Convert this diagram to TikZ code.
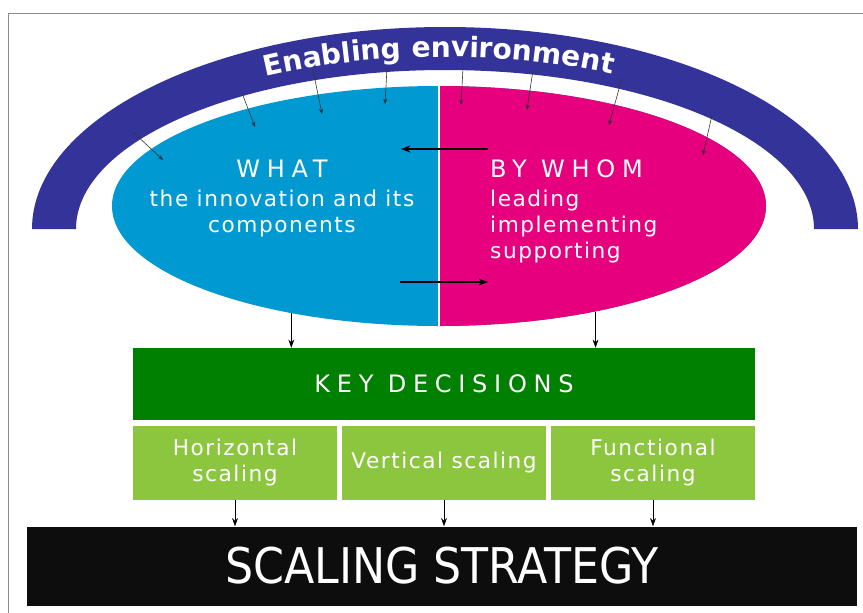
\documentclass[tikz,border=0pt]{standalone}
\usepackage{fontspec}
\setmainfont{DejaVu Sans}
\newfontfamily\headfont[LetterSpace=28]{DejaVu Sans}
\newfontfamily\bodyfont[LetterSpace=7]{DejaVu Sans}
\newfontfamily\stratfont[FakeStretch=0.9]{DejaVu Sans}
\usetikzlibrary{shapes.geometric, arrows.meta, decorations.text}

\definecolor{envblue}{RGB}{51,51,153}
\definecolor{whatblue}{RGB}{0,153,210}
\definecolor{whommag}{RGB}{230,0,126}
\definecolor{keygreen}{RGB}{0,128,0}
\definecolor{kindgreen}{RGB}{140,198,63}
\definecolor{framegray}{RGB}{140,140,140}

\begin{document}
\begin{tikzpicture}[
    x=0.03cm, y=-0.03cm,
    heading/.style={text=white, inner sep=0, font=\headfont\fontsize{20.5}{22}\selectfont},
    body/.style={text=white, inner sep=0, font=\bodyfont\fontsize{18.5}{22.2}\selectfont},
    keybox/.style={rectangle, fill=keygreen, minimum width=18.66cm, minimum height=2.16cm, heading},
    kindbox/.style={rectangle, fill=kindgreen, minimum width=6.12cm, minimum height=2.22cm, align=center, body},
    stratbox/.style={rectangle, fill=black!95, minimum width=24.87cm, minimum height=2.37cm, text=white, font=\stratfont\fontsize{42}{42}\selectfont},
    envarrow/.style={-{Stealth[length=4.5pt, width=3.5pt]}, black!80, line width=0.5pt},
    trade/.style={-{Stealth[length=8pt, width=6pt]}, black, line width=1.3pt},
    arrow/.style={-{Stealth[length=7pt, width=5pt]}, black, line width=0.6pt}
]
\useasboundingbox (0,0) rectangle (863,613);

% Frame
\draw[framegray, line width=0.8pt] (8,613) -- (8,13) -- (863,13);

% Enabling environment band
\fill[envblue] (445,229) ++(-413,0) arc[start angle=180, end angle=360, x radius=413, y radius=202]
    -- ++(-44,0) arc[start angle=360, end angle=180, x radius=369, y radius=159] -- cycle;
\path[decorate, decoration={text along path, text align=center,
    text={|\color{white}\bfseries\fontsize{24}{24}\selectfont|Enabling environment}}]
    (445,229) ++(-385,0) arc[start angle=180, end angle=356, x radius=385, y radius=172];

% What / by whom
\node[ellipse, fill=whatblue, minimum width=19.62cm, minimum height=7.2cm, inner sep=0] (core) at (439,206) {};
\begin{scope}
    \clip (core.north) rectangle (core.east |- core.south);
    \fill[whommag] (core.center) ellipse[x radius=327, y radius=120];
\end{scope}
\draw[white, line width=1.5pt] (core.north) -- (core.south);

\node[heading, anchor=base] (whatlbl) at (282,177) {WHAT};
\node[body, align=center, anchor=north] (whattxt) at (282,190) {the innovation and its\\components};
\node[heading, anchor=base west] (whomlbl) at (490,177) {BY WHOM};
\node[body, align=left, anchor=north west] (whomtxt) at (490,190) {leading\\implementing\\supporting};

% Influence of the environment
\coordinate (e1) at (133,132); \coordinate (t1) at (163,160);
\coordinate (e2) at (242,93);  \coordinate (t2) at (255,127);
\coordinate (e3) at (313,70);  \coordinate (t3) at (322,114);
\coordinate (e4) at (387,68);  \coordinate (t4) at (385,104);
\coordinate (e5) at (463,68);  \coordinate (t5) at (461,105);
\coordinate (e6) at (533,70);  \coordinate (t6) at (527,110);
\coordinate (e7) at (622,78);  \coordinate (t7) at (609,125);
\coordinate (e8) at (712,115); \coordinate (t8) at (703,155);
\draw[envarrow] (e1) -- (t1);
\draw[envarrow] (e2) -- (t2);
\draw[envarrow] (e3) -- (t3);
\draw[envarrow] (e4) -- (t4);
\draw[envarrow] (e5) -- (t5);
\draw[envarrow] (e6) -- (t6);
\draw[envarrow] (e7) -- (t7);
\draw[envarrow] (e8) -- (t8);

% Exchange between the halves
\coordinate (topR) at (488,149); \coordinate (topL) at (401,149);
\coordinate (botL) at (400,282); \coordinate (botR) at (488,282);
\draw[trade] (topR) -- (topL);
\draw[trade] (botL) -- (botR);

% Decisions
\node[keybox] (keydec) at (444,384) {KEY DECISIONS};
\node[kindbox] (horiz) at (235,463) {Horizontal\\scaling};
\node[kindbox] (vert) at (444,463) {Vertical scaling};
\node[kindbox] (func) at (653,463) {Functional\\scaling};

\draw[arrow] (core.216) -- (core.216 |- keydec.north);
\draw[arrow] (core.326.4) -- (core.326.4 |- keydec.north);

% Strategy
\node[stratbox] (strat) at (442,566) {SCALING STRATEGY};

\draw[arrow] (horiz.south) -- (horiz.south |- strat.north);
\draw[arrow] (vert.south) -- (vert.south |- strat.north);
\draw[arrow] (func.south) -- (func.south |- strat.north);

\end{tikzpicture}
\end{document}
